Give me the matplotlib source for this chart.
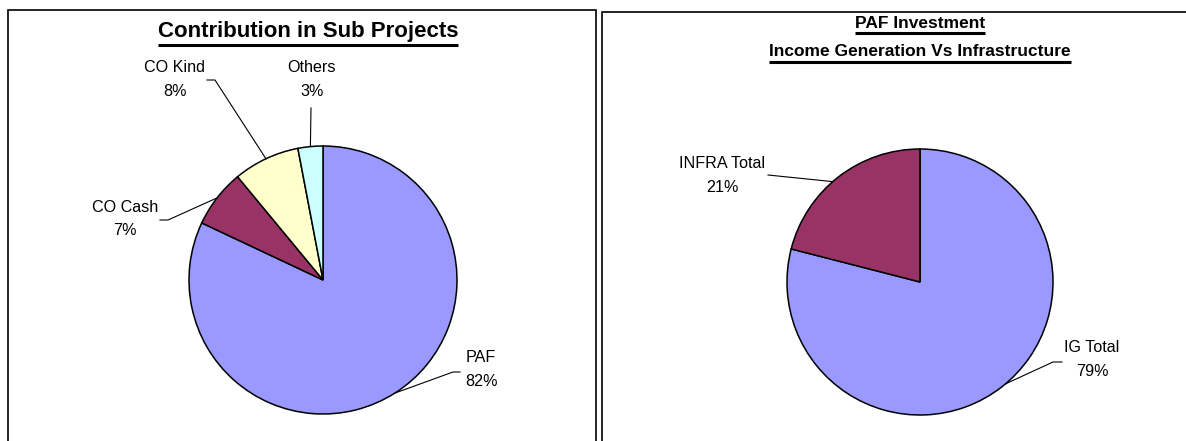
import numpy as np
import matplotlib.pyplot as plt
from matplotlib.patches import Rectangle

W, H = 1186, 441

# chart data
left_title = "Contribution in Sub Projects"
left_labels = ["PAF", "CO Cash", "CO Kind", "Others"]
left_values = [82, 7, 8, 3]
left_colors = ["#9999FF", "#993366", "#FFFFCC", "#CCFFFF"]

right_title = ["PAF Investment", "Income Generation Vs Infrastructure"]
right_labels = ["IG Total", "INFRA Total"]
right_values = [79, 21]
right_colors = ["#9999FF", "#993366"]

plt.rcParams['font.family'] = ['Liberation Sans', 'DejaVu Sans']

fig = plt.figure(figsize=(W / 100, H / 100), dpi=100)
ax = fig.add_axes([0, 0, 1, 1])


def py(y):
    # pixel row -> data y
    return H - y


def underlined_title(x, y, s, size):
    t = ax.text(x, py(y), s, ha='center', va='center', fontsize=size,
                fontweight='bold', color='black')
    fig.canvas.draw()
    bb = t.get_window_extent(fig.canvas.get_renderer())
    ax.plot([bb.x0, bb.x1], [bb.y0 - 2, bb.y0 - 2], color='black', lw=2.2,
            solid_capstyle='butt')


def draw_pie(values, labels, colors, cx, cy, r, label_xy, elbows, angles):
    wedges, _ = ax.pie(values, colors=colors, startangle=90, counterclock=False,
                       center=(cx, py(cy)), radius=r, frame=True,
                       wedgeprops=dict(edgecolor='black', linewidth=1.1))
    for w, lab, v, (lx, ly), elb, ang in zip(wedges, labels, values,
                                              label_xy, elbows, angles):
        if ang is None:
            ang = (w.theta1 + w.theta2) / 2
        ex = cx + r * np.cos(np.radians(ang))
        ey = py(cy) + r * np.sin(np.radians(ang))
        xs = [p[0] for p in elb] + [ex]
        ys = [py(p[1]) for p in elb] + [ey]
        ax.plot(xs, ys, color='black', lw=0.8)
        ax.text(lx, py(ly), lab, ha='center', va='center', fontsize=11.6)
        ax.text(lx, py(ly + 23.5), f"{v}%", ha='center', va='center',
                fontsize=11.6)


# panel borders
ax.add_patch(Rectangle((8, -10), 588, py(10) + 10, fill=False,
                       edgecolor='black', lw=1.2))
ax.add_patch(Rectangle((602, -10), 700, py(12) + 10, fill=False,
                       edgecolor='black', lw=1.2))

# left chart
draw_pie(left_values, left_labels, left_colors, 323, 280, 134,
         label_xy=[(481, 358), (125, 207), (175, 68), (312, 68)],
         elbows=[[(460, 372), (453, 372)], [(160, 220), (168, 220)],
                 [(207, 80), (215, 80)], [(311, 108)]],
         angles=[None, None, None, None])

# right chart
draw_pie(right_values, right_labels, right_colors, 920, 282, 133,
         label_xy=[(1092, 348), (722, 164)],
         elbows=[[(1062, 362), (1053, 362)], [(768, 175)]],
         angles=[-50, 131])

ax.set_xlim(0, W)
ax.set_ylim(0, H)
ax.set_aspect('auto')
ax.axis('off')

underlined_title(308, 32, left_title, 16)
underlined_title(920, 23, right_title[0], 12.5)
underlined_title(920, 52, right_title[1], 12.5)

fig.savefig("out.png", dpi=100)
